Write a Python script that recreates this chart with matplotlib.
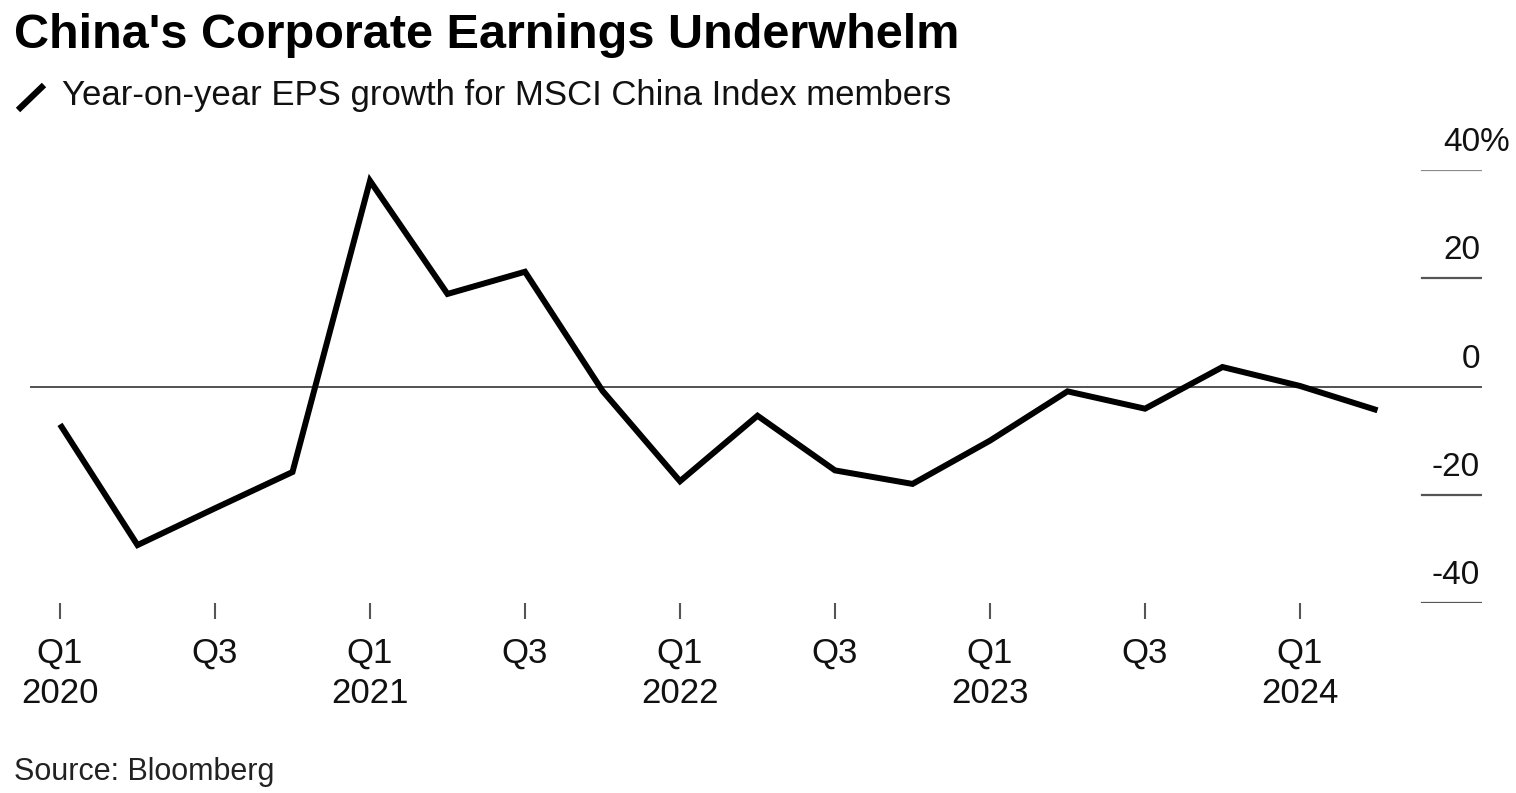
import matplotlib
matplotlib.use("Agg")
import matplotlib.pyplot as plt
import matplotlib.transforms as mtransforms

# ---- data ----
quarters = ["Q1 2020", "Q2 2020", "Q3 2020", "Q4 2020",
            "Q1 2021", "Q2 2021", "Q3 2021", "Q4 2021",
            "Q1 2022", "Q2 2022", "Q3 2022", "Q4 2022",
            "Q1 2023", "Q2 2023", "Q3 2023", "Q4 2023",
            "Q1 2024", "Q2 2024"]
eps_growth = [-7.0, -29.3, -22.5, -15.8,
              38.0, 17.1, 21.2, -0.8,
              -17.5, -5.4, -15.5, -18.0,
              -10.0, -0.9, -4.1, 3.6,
              0.1, -4.4]
tick_positions = [0, 2, 4, 6, 8, 10, 12, 14, 16]
tick_labels = ["Q1\n2020", "Q3", "Q1\n2021", "Q3", "Q1\n2022", "Q3",
               "Q1\n2023", "Q3", "Q1\n2024"]
y_ticks = [40, 20, 0, -20, -40]
y_tick_labels = ["40", "20", "0", "-20", "-40"]

title = "China's Corporate Earnings Underwhelm"
subtitle = "Year-on-year EPS growth for MSCI China Index members"
source = "Source: Bloomberg"

FONT = ["Liberation Sans", "DejaVu Sans"]
plt.rcParams["font.family"] = FONT

W, H = 1516, 793
fig = plt.figure(figsize=(W / 100, H / 100), dpi=100)
fig.patch.set_facecolor("white")

# axes in pixel coords
ax_left, ax_right = 30, 1482
ax_top, ax_bottom = 170, 603
ax = fig.add_axes([ax_left / W, (H - ax_bottom) / H,
                   (ax_right - ax_left) / W, (ax_bottom - ax_top) / H])
spacing = 77.5
i0 = -(60 - ax_left) / spacing
i1 = i0 + (ax_right - ax_left) / spacing
ax.set_xlim(i0, i1)
ax.set_ylim(-40, 40)
for s in ax.spines.values():
    s.set_visible(False)
ax.set_facecolor("none")
ax.set_yticks([])

x = list(range(len(eps_growth)))

# gridline stubs on the right
stub_min = (1422 - ax_left) / (ax_right - ax_left)
for v in y_ticks:
    if v == 0:
        ax.axhline(0, xmin=0, xmax=1, color="#444444", lw=1.3, zorder=1)
    else:
        col = "#8a8a8a" if v == 40 else "#555555"
        ax.axhline(v, xmin=stub_min, xmax=1, color=col, lw=1.6, zorder=1)

ax.plot(x, eps_growth, color="black", lw=4.3, solid_joinstyle="miter",
        solid_capstyle="butt", zorder=3)

# y labels right aligned above stubs
off = mtransforms.offset_copy(ax.transData, fig=fig, x=0, y=12, units="dots")
xr = i0 + (1480 - ax_left) / spacing
for v, lab in zip(y_ticks, y_tick_labels):
    ax.text(xr, v, lab, transform=off, ha="right", va="bottom",
            fontsize=24, color="#111111")
ax.text(xr, 40, "%", transform=off, ha="left", va="bottom",
        fontsize=24, color="#111111")

# x ticks
ax.set_xticks(tick_positions)
ax.set_xticklabels(tick_labels, fontsize=25, color="#111111", linespacing=1.3)
ax.tick_params(axis="x", length=11.5, width=1.5, color="#555555", pad=12.5,
               direction="out")
ax.xaxis.set_ticks_position("bottom")

# title / subtitle / source
fig.text(14 / W, 1 - 35 / H, title, fontsize=35, fontweight="bold",
         ha="left", va="center", color="black")
fig.text(62 / W, 1 - 96 / H, subtitle, fontsize=25, ha="left", va="center",
         color="#111111")
fig.add_artist(plt.Line2D([18 / W, 44 / W], [1 - 110 / H, 1 - 85 / H],
                          color="black", lw=4.5, solid_capstyle="butt"))
fig.text(14 / W, 1 - 772 / H, source, fontsize=22, ha="left", va="center",
         color="#222222")

fig.savefig("out.png", dpi=100, facecolor="white")
